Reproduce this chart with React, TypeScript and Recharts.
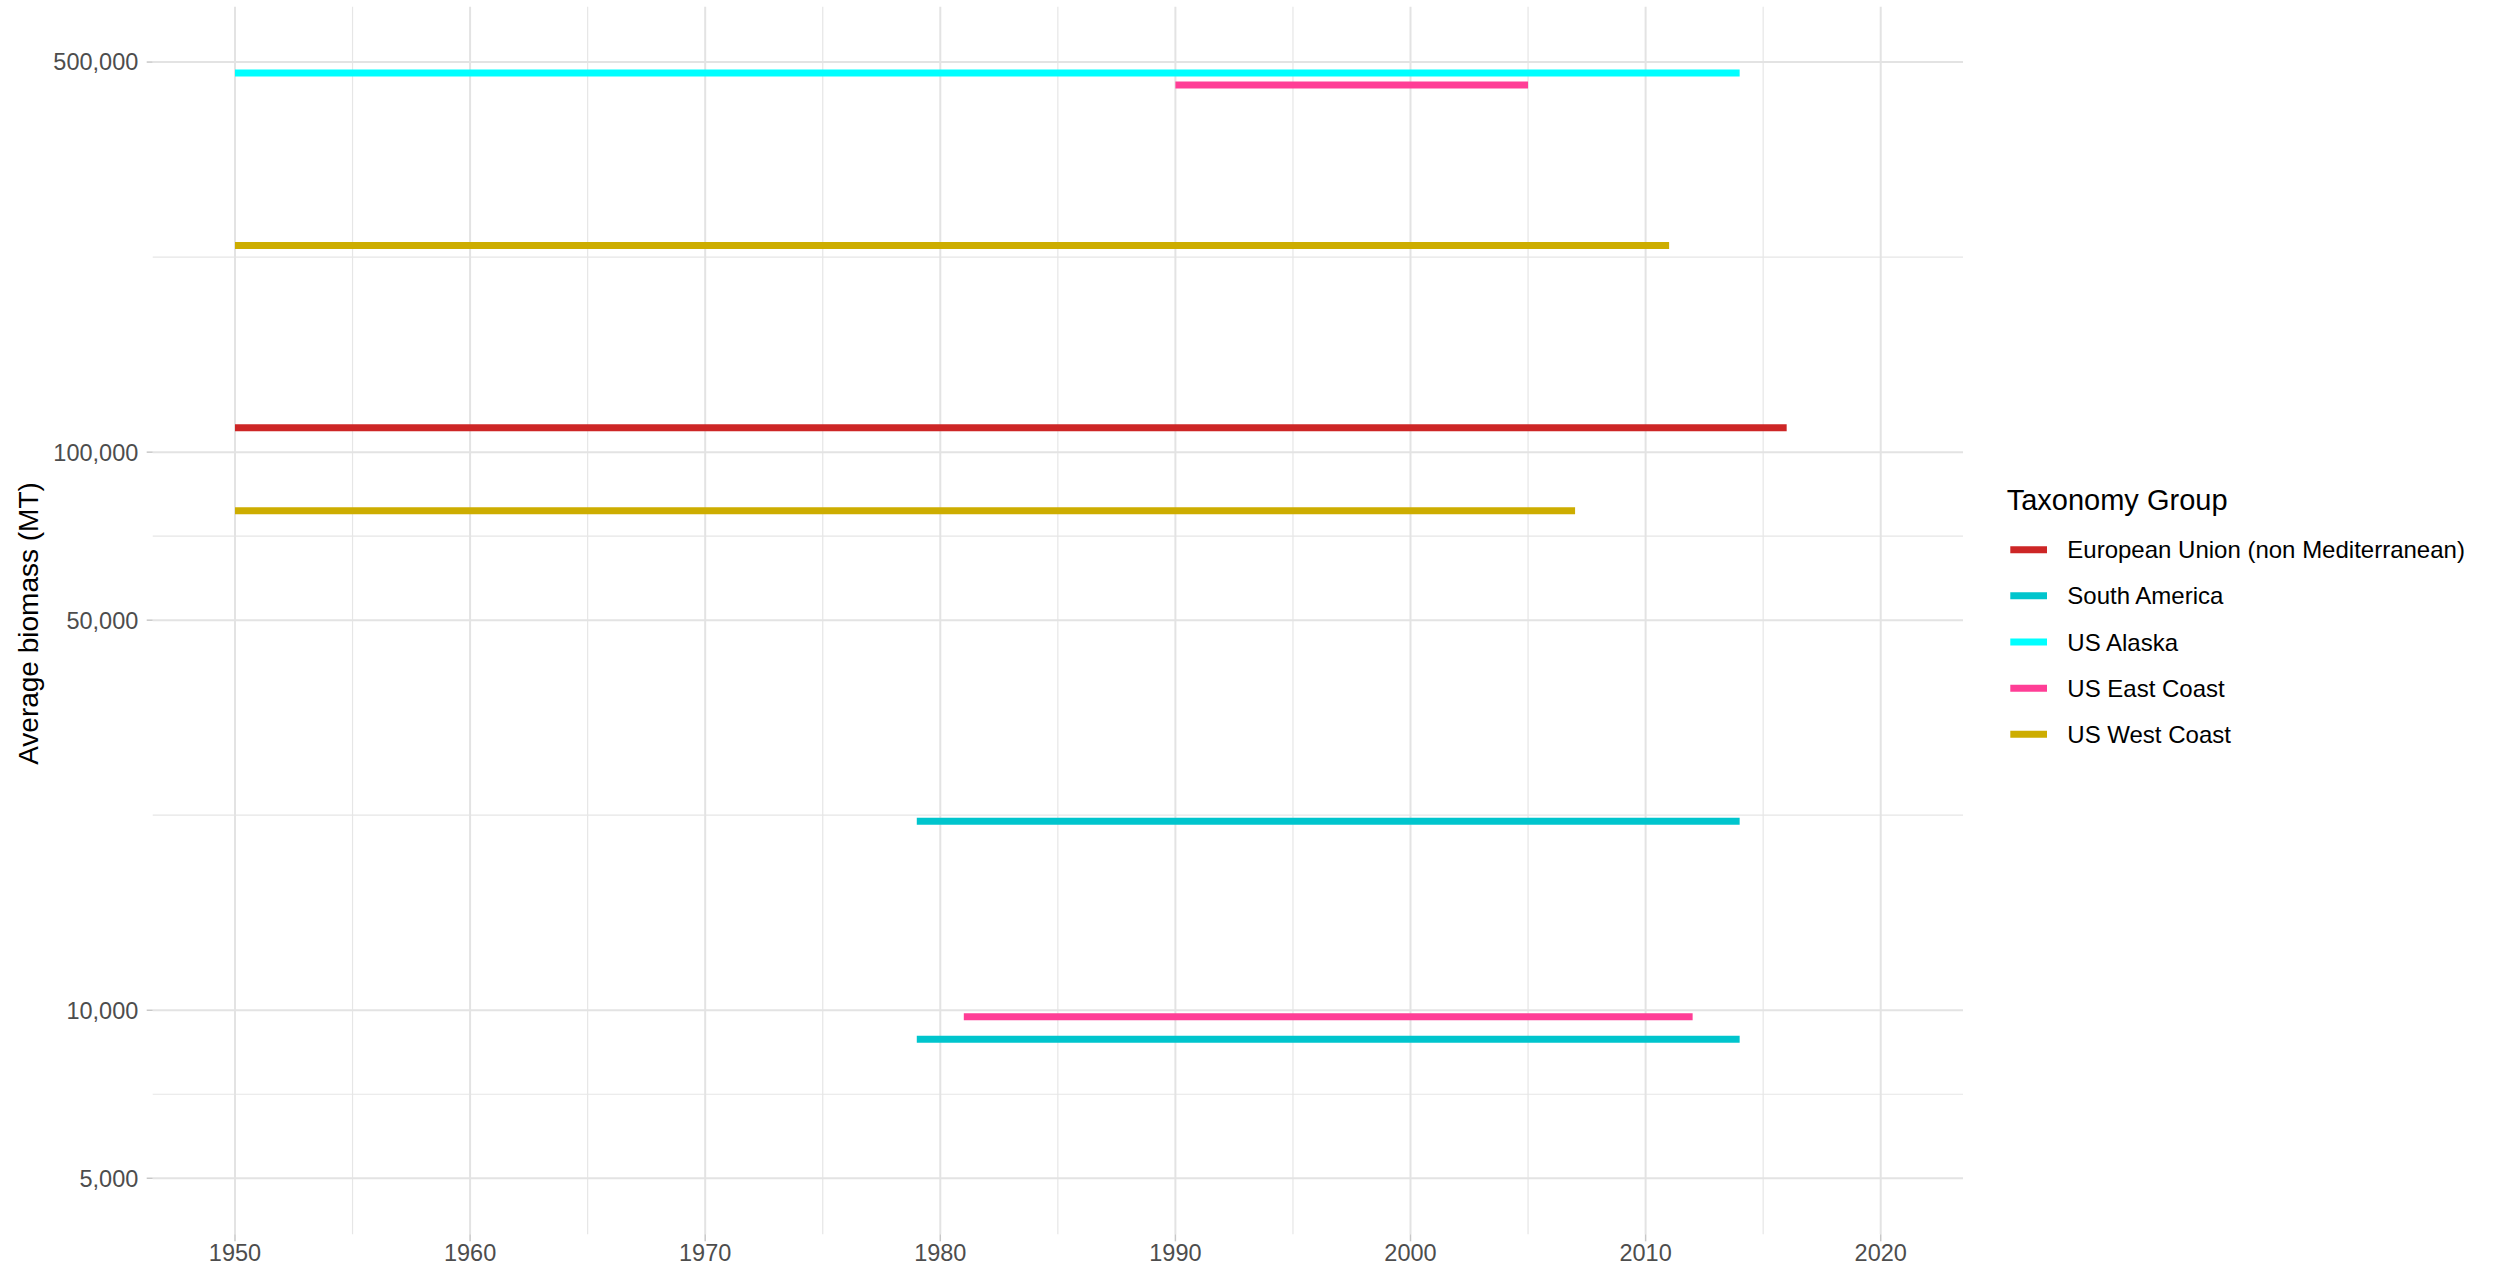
import React from 'react';
import { ComposedChart, Line, XAxis, YAxis, CartesianGrid } from 'recharts';

const groups = ['European Union (non Mediterranean)', 'South America', 'US Alaska', 'US East Coast', 'US West Coast'];
const groupColors = ['#CD2626', '#00C5CD', '#00FFFF', '#FF3E96', '#CDAD00'];

// segments: group, start year, end year, average biomass (MT)
const segGroup = ['US Alaska', 'US East Coast', 'US West Coast', 'European Union (non Mediterranean)', 'US West Coast', 'South America', 'US East Coast', 'South America'];
const segStart = [1950, 1990, 1950, 1950, 1950, 1979, 1981, 1979];
const segEnd = [2014, 2005, 2011, 2016, 2007, 2014, 2012, 2014];
const segValue = [478000, 455000, 234600, 110600, 78500, 21800, 9740, 8870];

const xTicks = [1950, 1960, 1970, 1980, 1990, 2000, 2010, 2020];
const xMinor = [1955, 1965, 1975, 1985, 1995, 2005, 2015];
const yTicks = [5000, 10000, 50000, 100000, 500000];
const yMinor = [7071, 22361, 70711, 223607];

const FONT = '"Liberation Sans", Arial, Helvetica, sans-serif';

const W = 2503;
const H = 1276;

export default function App() {
  const segments = segGroup.map((g, i) => ({
    id: `seg${i}`,
    color: groupColors[groups.indexOf(g)],
    data: [
      { x: segStart[i], y: segValue[i] },
      { x: segEnd[i], y: segValue[i] },
    ],
  }));

  const yTitle = (props: any) => {
    const vb = props.viewBox || { y: 6.7, height: 1227.6 };
    const cy = vb.y + vb.height / 2 + 3;
    return (
      <text
        x={38}
        y={cy}
        transform={`rotate(-90, 38, ${cy})`}
        textAnchor="middle"
        fontSize={28}
        fill="#000000"
        fontFamily={FONT}
      >
        Average biomass (MT)
      </text>
    );
  };

  return (
    <div style={{ position: 'absolute', left: 0, top: 0, width: W, height: H, background: '#ffffff', fontFamily: FONT }}>
      <ComposedChart
        width={W}
        height={H}
        margin={{ top: 6.7, right: 540, bottom: 0, left: 0 }}
      >
        <CartesianGrid
          stroke="#E6E6E6"
          strokeWidth={1.2}
          verticalValues={xMinor}
          horizontalValues={yMinor}
        />
        <CartesianGrid
          stroke="#E3E3E3"
          strokeWidth={2}
          verticalValues={xTicks}
          horizontalValues={yTicks}
        />
        <XAxis
          type="number"
          dataKey="x"
          domain={[1946.5, 2023.5]}
          allowDataOverflow
          ticks={xTicks}
          height={41.7}
          axisLine={false}
          tickLine={{ stroke: '#C8C8C8', strokeWidth: 1.5 }}
          tickSize={7}
          tickMargin={3.5}
          tick={{ fontSize: 23.5, fill: '#4D4D4D', fontFamily: FONT }}
          interval={0}
        />
        <YAxis
          type="number"
          scale="log"
          domain={[3968, 628300]}
          allowDataOverflow
          ticks={yTicks}
          width={152.7}
          axisLine={false}
          tickLine={{ stroke: '#C8C8C8', strokeWidth: 1.5 }}
          tickSize={6}
          tickMargin={8.4}
          tick={{ fontSize: 23.5, fill: '#4D4D4D', fontFamily: FONT }}
          tickFormatter={(v: number) => v.toLocaleString('en-US')}
          interval={0}
          label={{ content: yTitle }}
        />
        {segments.map((s) => (
          <Line
            key={s.id}
            data={s.data}
            dataKey="y"
            type="linear"
            stroke={s.color}
            strokeWidth={7}
            strokeLinecap="butt"
            dot={false}
            activeDot={false}
            isAnimationActive={false}
            legendType="none"
          />
        ))}
      </ComposedChart>
      <svg
        width={W}
        height={H}
        style={{ position: 'absolute', left: 0, top: 0, pointerEvents: 'none' }}
      >
        <text x={2006.7} y={510} fontSize={29} fill="#000000" fontFamily={FONT}>
          Taxonomy Group
        </text>
        {groups.map((g, i) => {
          const cy = 549.7 + i * 46.15;
          return (
            <g key={g}>
              <line x1={2010.3} x2={2047} y1={cy} y2={cy} stroke={groupColors[i]} strokeWidth={7} />
              <text x={2067.3} y={cy + 8.6} fontSize={24} fill="#000000" fontFamily={FONT}>
                {g}
              </text>
            </g>
          );
        })}
      </svg>
    </div>
  );
}
